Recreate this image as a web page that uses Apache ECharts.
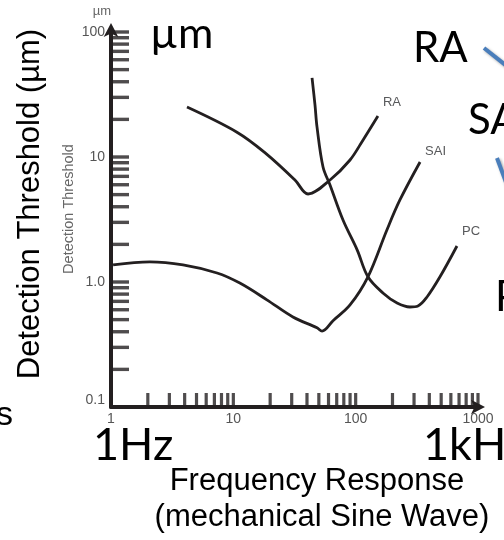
<!DOCTYPE html>
<html>
<head>
<meta charset="utf-8">
<script src="https://cdn.jsdelivr.net/npm/echarts@6/dist/echarts.min.js"></script>
<style>html,body{margin:0;padding:0;background:#fff;}#c{width:504px;height:540px;}</style>
</head>
<body>
<div id="c"></div>
<script>
// ---- data (frequency in Hz, detection threshold in µm) ----
const raFreq = [4.18, 10.7, 18.2, 31.9, 40.8, 61.7, 89.9, 115, 152];
const raThreshold = [25.1, 15.8, 10.8, 6.55, 5.06, 6.55, 9.46, 13.7, 21.3];
const saiFreq = [1.04, 2.08, 3.88, 7.36, 11.3, 18.8, 30.7, 48.3, 53.1, 65.3, 89.9, 126, 180, 230, 336];
const saiThreshold = [1.37, 1.45, 1.37, 1.18, 0.98, 0.72, 0.525, 0.43, 0.405, 0.49, 0.655, 1.10, 2.61, 4.53, 9.12];
const pcFreq = [44.0, 46.5, 48.3, 54.1, 61.7, 78.8, 103, 126, 167, 218, 278, 323, 383, 489, 673];
const pcThreshold = [42.9, 26.1, 17.4, 8.32, 5.97, 3.13, 1.80, 1.10, 0.817, 0.679, 0.631, 0.643, 0.759, 1.10, 1.94];
const seriesNames = ['RA', 'SAI', 'PC'];

// ---- axis ticks and labels ----
const xTickValues = [1,2,3,4,5,6,7,8,9,10,20,30,40,50,60,70,80,90,100,200,300,400,500,600,700,800,900,1000];
const yTickValues = [0.1,0.2,0.3,0.4,0.5,0.6,0.7,0.8,0.9,1,2,3,4,5,6,7,8,9,10,20,30,40,50,60,70,80,90,100];
const xTickLabels = ['1', '10', '100', '1000'];
const yTickLabels = ['0.1', '1.0', '10', '100'];

const zip = (a, b) => a.map((v, i) => [v, b[i]]);
const INK = '#231f20';

function curve(name, xs, ys, off) {
  return {
    type: 'line', name: name, data: zip(xs, ys), smooth: 0.35, symbol: 'none',
    lineStyle: { color: INK, width: 2.8 }, silent: true, clip: false,
    endLabel: { show: true, formatter: name, color: '#58595b', fontSize: 13,
      fontFamily: 'Liberation Sans', distance: 5, offset: off }
  };
}

function txt(text, x, y, size, opts) {
  opts = opts || {};
  return {
    type: 'text', x: x, y: y, rotation: opts.rotation || 0, silent: true,
    style: { text: text, fontSize: size, fontFamily: opts.family || 'Lato',
      fill: opts.color || '#000', align: opts.align || 'left', verticalAlign: 'middle' }
  };
}

const chart = echarts.init(document.getElementById('c'), null, { renderer: 'canvas' });
chart.setOption({
  animation: false,
  backgroundColor: '#fff',
  grid: { left: 111, top: 32, width: 367, height: 375, containLabel: false },
  xAxis: {
    type: 'log', logBase: 10, min: 1, max: 1000,
    axisLine: { show: true, lineStyle: { color: INK, width: 4 }, symbol: ['none', 'arrow'], symbolSize: [11, 14], symbolOffset: [0, 7] },
    axisTick: { show: false }, splitLine: { show: false }, minorTick: { show: false },
    axisLabel: { color: '#555', fontSize: 14, fontFamily: 'Liberation Sans', margin: 5,
      formatter: v => xTickLabels[Math.round(Math.log10(v))] }
  },
  yAxis: {
    type: 'log', logBase: 10, min: 0.1, max: 100,
    name: 'µm', nameLocation: 'end', nameGap: 14,
    nameTextStyle: { color: '#666', fontSize: 13, fontFamily: 'Liberation Sans', align: 'right' },
    axisLine: { show: true, lineStyle: { color: INK, width: 4 }, symbol: ['none', 'arrow'], symbolSize: [11, 14], symbolOffset: [0, 9] },
    axisTick: { show: false }, splitLine: { show: false }, minorTick: { show: false },
    axisLabel: { color: '#555', fontSize: 14, fontFamily: 'Liberation Sans', margin: 6,
      formatter: v => { const i = Math.round(Math.log10(v)) + 1; return i === 0 ? '{low|' + yTickLabels[i] + '}' : yTickLabels[i]; },
      rich: { low: { color: '#555', fontSize: 14, fontFamily: 'Liberation Sans', padding: [0, 0, 14, 0] } } }
  },
  series: [
    { type: 'scatter', data: xTickValues.map(v => [v, 0.1]), symbol: 'rect', symbolSize: [3.2, 14], symbolOffset: [0, -7],
      itemStyle: { color: INK }, silent: true, clip: false, z: 1 },
    { type: 'scatter', data: yTickValues.map(v => [1, v]), symbol: 'rect', symbolSize: [18, 3.4], symbolOffset: [9, 0],
      itemStyle: { color: INK }, silent: true, clip: false, z: 1 },
    curve(seriesNames[0], raFreq, raThreshold, [0, -14]),
    curve(seriesNames[1], saiFreq, saiThreshold, [0, -11]),
    curve(seriesNames[2], pcFreq, pcThreshold, [0, -15])
  ],
  graphic: [
    txt('Detection Threshold (µm)', 30, 204, 31, { rotation: Math.PI / 2, align: 'center', family: 'Liberation Sans' }),
    txt('Detection Threshold', 69, 209, 14.5, { rotation: Math.PI / 2, align: 'center', family: 'Liberation Sans', color: '#666' }),
    txt('µm', 150, 34, 43),
    txt('RA', 413, 48, 42),
    txt('SA', 468, 120, 42),
    txt('P', 495, 297, 42),
    txt('s', 13, 416, 34, { align: 'right', family: 'Liberation Sans' }),
    txt('1Hz', 93, 445, 45),
    txt('1kHz', 423, 445, 45),
    txt('Frequency Response', 317, 481, 31, { align: 'center', family: 'Liberation Sans' }),
    txt('(mechanical Sine Wave)', 322, 517, 31, { align: 'center', family: 'Liberation Sans' }),
    { type: 'line', silent: true, shape: { x1: 484, y1: 48, x2: 508, y2: 67 },
      style: { stroke: '#4a7ebb', lineWidth: 4, shadowBlur: 3, shadowColor: 'rgba(0,0,0,0.35)', shadowOffsetX: 1.5, shadowOffsetY: 1.5 } },
    { type: 'line', silent: true, shape: { x1: 497, y1: 158, x2: 507, y2: 185 },
      style: { stroke: '#4a7ebb', lineWidth: 4, shadowBlur: 3, shadowColor: 'rgba(0,0,0,0.35)', shadowOffsetX: 1.5, shadowOffsetY: 1.5 } }
  ]
});
</script>
</body>
</html>
